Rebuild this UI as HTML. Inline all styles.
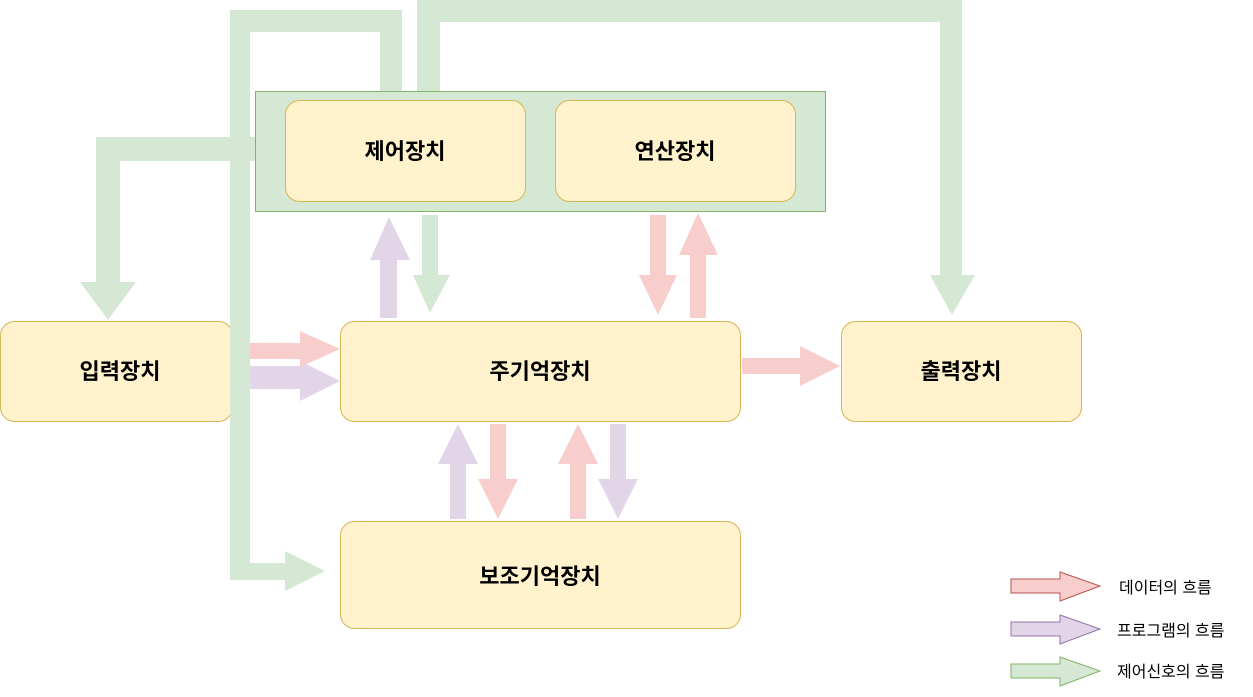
<!DOCTYPE html>
<html><head><meta charset="utf-8"><style>
body{margin:0;background:#fff;}
svg{display:block;}
text{font-family:"Liberation Sans","Noto Sans CJK KR",sans-serif;font-weight:bold;}
</style></head><body>
<svg width="1253" height="697" viewBox="0 0 1253 697" xmlns="http://www.w3.org/2000/svg">
<!-- control group -->
<rect x="255.5" y="91.5" width="570" height="120" fill="#d5e8d4" stroke="#82b366"/>
<rect x="285.5" y="100.5" width="240" height="101" rx="14" fill="#fff2cc" stroke="#d6b656"/>
<rect x="555.5" y="100.5" width="240" height="101" rx="14" fill="#fff2cc" stroke="#d6b656"/>
<text x="405" y="159" font-size="22" text-anchor="middle">제어장치</text>
<text x="675" y="159" font-size="22" text-anchor="middle">연산장치</text>

<!-- boxes -->
<rect x="0.5" y="321.5" width="232" height="100" rx="14" fill="#fff2cc" stroke="#d6b656"/>
<rect x="340.5" y="321.5" width="400" height="100" rx="14" fill="#fff2cc" stroke="#d6b656"/>
<rect x="841.5" y="321.5" width="240" height="100" rx="14" fill="#fff2cc" stroke="#d6b656"/>
<rect x="340.5" y="521.5" width="400" height="107" rx="14" fill="#fff2cc" stroke="#d6b656"/>
<text x="120" y="379" font-size="22" text-anchor="middle">입력장치</text>
<text x="540" y="379" font-size="22" text-anchor="middle">주기억장치</text>
<text x="961" y="379" font-size="22" text-anchor="middle">출력장치</text>
<text x="540" y="584" font-size="22" text-anchor="middle">보조기억장치</text>

<g fill="#d5e8d4">
<!-- green path 1: control -> aux -->
<polygon points="380,91 380,32 250,32 250,563 285,563 285,551 325,571 285,591 285,580 230,580 230,10 402,10 402,91"/>
<!-- green path 2: control -> input -->
<polygon points="255,137 96,137 96,282 80,282 108,320 136,282 120,282 120,161 255,161"/>
<!-- green path 3: control -> output -->
<polygon points="417,91 417,0 962,0 962,275 975,275 952,315 930,275 940,275 940,22 440,22 440,91"/>
<!-- green down control->main -->
<polygon points="422,215 438,215 438,275 450,275 430,313 413,275 422,275"/>
</g>
<!-- redraw input box edge area is covered by green as in reference -->

<g fill="#e1d5e7">
<polygon points="380,318 397,318 397,260 410,260 389,217 370,260 380,260"/>
<polygon points="250,366 300,366 300,361 340,381 300,401 300,389 250,389"/>
<polygon points="450,519 466,519 466,464 478,464 458,424 438,464 450,464"/>
<polygon points="610,424 626,424 626,479 638,479 618,519 598,479 610,479"/>
</g>
<g fill="#f8cecc">
<polygon points="650,215 666,215 666,275 677,275 658,315 639,275 650,275"/>
<polygon points="690,318 706,318 706,255 718,255 698,213 679,255 690,255"/>
<polygon points="250,343 300,343 300,331 340,349 300,367 300,359 250,359"/>
<polygon points="742,358 800,358 800,346 840,366 800,386 800,374 742,374"/>
<polygon points="490,424 506,424 506,479 518,479 498,519 478,479 490,479"/>
<polygon points="570,519 586,519 586,464 598,464 578,424 558,464 570,464"/>
</g>

<!-- legend -->
<polygon points="1011,579 1060,579 1060,572 1100,586 1060,601 1060,593 1011,593" fill="#f8cecc" stroke="#b85450"/>
<polygon points="1011,622 1060,622 1060,615 1100,629 1060,644 1060,636 1011,636" fill="#e1d5e7" stroke="#9673a6"/>
<polygon points="1011,664 1060,664 1060,657 1100,671 1060,686 1060,678 1011,678" fill="#d5e8d4" stroke="#82b366"/>
<text x="1119" y="593" font-size="16" font-weight="normal" style="font-weight:normal">데이터의 흐름</text>
<text x="1117" y="636" font-size="16" style="font-weight:normal">프로그램의 흐름</text>
<text x="1117" y="677" font-size="16" style="font-weight:normal">제어신호의 흐름</text>
</svg>
</body></html>
